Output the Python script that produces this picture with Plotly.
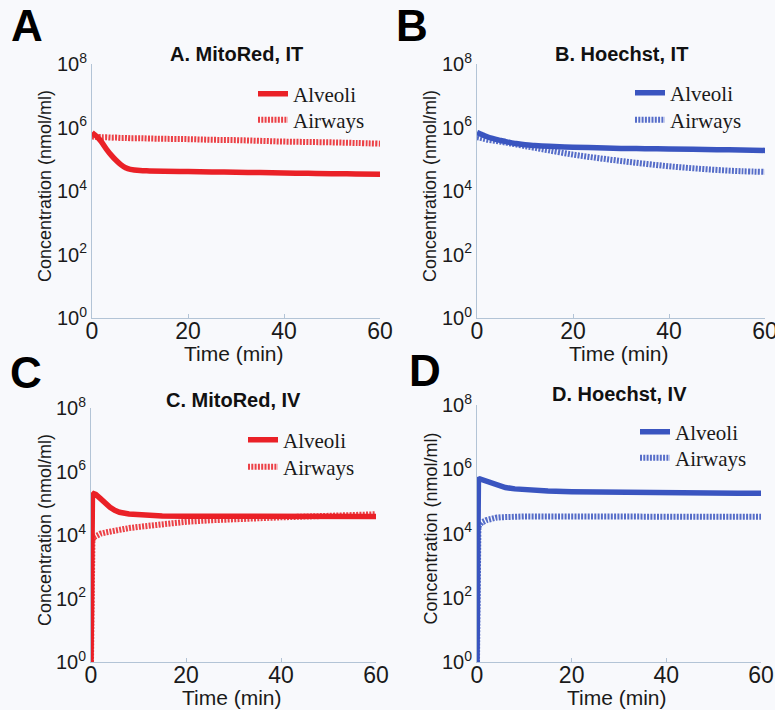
import plotly.graph_objects as go

# ---------------- data ----------------
t_it = [0, 0.5, 1, 1.5, 2, 3, 4, 5, 6, 7, 8, 10, 12, 15, 20, 25, 30, 35, 40, 45, 50, 55, 60]

a_alv = [7.0e5, 6.0e5, 5.2e5, 4.3e5, 3.5e5, 2.1e5, 1.35e5, 9.3e4, 6.8e4, 5.4e4, 4.8e4, 4.4e4, 4.3e4, 4.2e4,
         4.1e4, 4.0e4, 3.9e4, 3.8e4, 3.7e4, 3.6e4, 3.5e4, 3.45e4, 3.4e4]
a_air = [5.2e5, 5.1e5, 5.0e5, 5.0e5, 4.9e5, 4.9e5, 4.8e5, 4.8e5, 4.7e5, 4.7e5, 4.6e5, 4.6e5, 4.5e5, 4.4e5,
         4.3e5, 4.1e5, 4.0e5, 3.8e5, 3.6e5, 3.5e5, 3.4e5, 3.25e5, 3.1e5]

b_alv = [7.0e5, 6.5e5, 6.0e5, 5.6e5, 5.2e5, 4.6e5, 4.2e5, 3.9e5, 3.6e5, 3.35e5, 3.15e5, 2.85e5, 2.7e5, 2.55e5,
         2.4e5, 2.3e5, 2.2e5, 2.15e5, 2.1e5, 2.05e5, 2.0e5, 1.95e5, 1.9e5]
b_air = [5.0e5, 4.8e5, 4.6e5, 4.4e5, 4.2e5, 3.95e5, 3.75e5, 3.55e5, 3.35e5, 3.15e5, 2.95e5, 2.6e5, 2.3e5, 1.9e5,
         1.4e5, 1.1e5, 8.8e4, 7.2e4, 6.0e4, 5.2e4, 4.6e4, 4.2e4, 4.0e4]

t_iv = [0, 0.05, 0.3, 0.6, 1, 2, 3, 4, 5, 6, 8, 10, 12, 15, 20, 25, 30, 35, 40, 45, 50, 55, 60]

c_alv = [1.0, 3.0e3, 1.8e5, 2.0e5, 1.9e5, 1.4e5, 1.0e5, 7.5e4, 6.0e4, 5.2e4, 4.6e4, 4.3e4, 4.1e4, 4.0e4, 3.9e4,
         3.85e4, 3.8e4, 3.8e4, 3.8e4, 3.8e4, 3.8e4, 3.8e4, 3.8e4]
c_air = [1.0, 1.0e3, 7.0e3, 8.5e3, 9.5e3, 1.1e4, 1.2e4, 1.3e4, 1.4e4, 1.5e4, 1.65e4, 1.8e4, 1.95e4, 2.2e4, 2.6e4,
         2.9e4, 3.2e4, 3.4e4, 3.6e4, 3.8e4, 4.0e4, 4.3e4, 4.5e4]

d_alv = [1.0, 5.0e3, 4.8e5, 5.0e5, 4.8e5, 4.2e5, 3.6e5, 3.2e5, 2.9e5, 2.7e5, 2.45e5, 2.3e5, 2.2e5, 2.1e5, 2.0e5,
         1.95e5, 1.9e5, 1.9e5, 1.85e5, 1.85e5, 1.8e5, 1.8e5, 1.8e5]
d_air = [1.0, 3.0e3, 1.6e4, 1.9e4, 2.2e4, 2.6e4, 2.9e4, 3.1e4, 3.2e4, 3.3e4, 3.35e4, 3.4e4, 3.4e4, 3.4e4, 3.4e4,
         3.4e4, 3.4e4, 3.35e4, 3.35e4, 3.3e4, 3.3e4, 3.3e4, 3.3e4]

titles = ["A. MitoRed, IT", "B. Hoechst, IT", "C. MitoRed, IV", "D. Hoechst, IV"]
letters = ["A", "B", "C", "D"]
series_names = ["Alveoli", "Airways"]
x_title = "Time (min)"
y_title = "Concentration (nmol/ml)"
x_ticks = [0, 20, 40, 60]
y_ticks = [1, 1e2, 1e4, 1e6, 1e8]
y_ticktext = ["10<sup>0</sup>", "10<sup>2</sup>", "10<sup>4</sup>", "10<sup>6</sup>", "10<sup>8</sup>"]

RED = "#ea2127"
BLUE = "#3a55c0"
BG = "#f8f9fc"
AXC = "#b3c4d6"
TXT = "#1a1a1a"

panels = [
    (t_it, a_alv, a_air, RED, "spline"),
    (t_it, b_alv, b_air, BLUE, "spline"),
    (t_iv, c_alv, c_air, RED, "linear"),
    (t_iv, d_alv, d_air, BLUE, "linear"),
]

W, H = 775, 710
# layout in pixels: plot box (left, right, top, bottom)
boxes = [(92, 380, 64, 318), (477, 765, 64, 318), (91, 376, 408, 662), (477, 761, 405, 662)]
title_y = [54, 54, 400, 394]
letter_pos = [(9, 26), (394, 26), (8, 372), (407, 370)]
legend_pos = [(258, 94, 120), (635, 93, 120), (248, 440, 467), (640, 432, 458)]
ytitle_x = [45, 430, 45, 430]
xtitle_y = [353, 353, 697, 697]


def px(x):
    return x / W


def py(y):
    return 1 - y / H


fig = go.Figure()
layout = dict(
    width=W, height=H, margin=dict(l=0, r=0, t=0, b=0, autoexpand=False),
    paper_bgcolor=BG, plot_bgcolor=BG, showlegend=True,
    font=dict(family="Liberation Sans, Arial", color=TXT),
)
annotations = []
leg_idx = 0

for i, ((t, alv, air, col, shp), (l, r, tp, bt)) in enumerate(zip(panels, boxes)):
    k = "" if i == 0 else str(i + 1)
    xa, ya = "x" + k, "y" + k
    lx, ly1, ly2 = legend_pos[i]
    for j, (vals, lw, dash, y_leg) in enumerate([(alv, 5.5, "solid", ly1), (air, 6, "2px,1.3px", ly2)]):
        leg_idx += 1
        lg = "legend" if leg_idx == 1 else "legend" + str(leg_idx)
        fig.add_trace(go.Scatter(x=t, y=vals, mode="lines", name=series_names[j], xaxis=xa, yaxis=ya,
                                 legend=lg, line=dict(color=col, width=lw, dash=dash, shape=shp),
                                 opacity=1 if j == 0 else 0.85))
        layout[lg] = dict(
            x=px(lx - 5), xanchor="left", y=py(y_leg), yanchor="middle",
            bgcolor="rgba(0,0,0,0)", borderwidth=0,
            font=dict(family="Liberation Serif, Times New Roman", size=21, color=TXT),
            itemwidth=30,
        )
    layout["xaxis" + k] = dict(
        domain=[px(l), px(r)], anchor=ya, range=[0, 60], tickvals=x_ticks, ticks="inside", ticklen=4,
        tickcolor=AXC, showline=True, linecolor=AXC, linewidth=1, showgrid=False, zeroline=False,
        tickfont=dict(size=23, color=TXT), automargin=False, ticklabelstandoff=-8,
        ticklabeloverflow="allow",
    )
    layout["yaxis" + k] = dict(
        domain=[py(bt), py(tp)], anchor=xa, type="log", range=[0, 8], tickvals=y_ticks, ticktext=y_ticktext,
        ticks="", showline=True, linecolor=AXC, linewidth=1,
        showgrid=False, zeroline=False, tickfont=dict(size=20, color=TXT), automargin=False,
        ticklabeloverflow="allow",
    )
    annotations.append(dict(text="<b>" + titles[i] + "</b>", xref="paper", yref="paper",
                            x=px((l + r) / 2), y=py(title_y[i]), showarrow=False,
                            font=dict(size=20, color="#111"), xanchor="center", yanchor="middle"))
    annotations.append(dict(text="<b>" + letters[i] + "</b>", xref="paper", yref="paper",
                            x=px(letter_pos[i][0]), y=py(letter_pos[i][1]), showarrow=False,
                            font=dict(size=44, color="#000"), xanchor="left", yanchor="middle"))
    annotations.append(dict(text=y_title, xref="paper", yref="paper", textangle=-90,
                            x=px(ytitle_x[i]), y=py((tp + bt - 10) / 2), showarrow=False,
                            font=dict(size=18, color=TXT), xanchor="center", yanchor="middle"))
    annotations.append(dict(text=x_title, xref="paper", yref="paper",
                            x=px((l + r) / 2 - 2), y=py(xtitle_y[i]), showarrow=False,
                            font=dict(size=21, color=TXT), xanchor="center", yanchor="middle"))

layout["annotations"] = annotations
fig.update_layout(**layout)
fig.write_html("out.html", config={"displayModeBar": False},
               post_script="document.body.style.margin='0';document.body.style.overflow='hidden';")
